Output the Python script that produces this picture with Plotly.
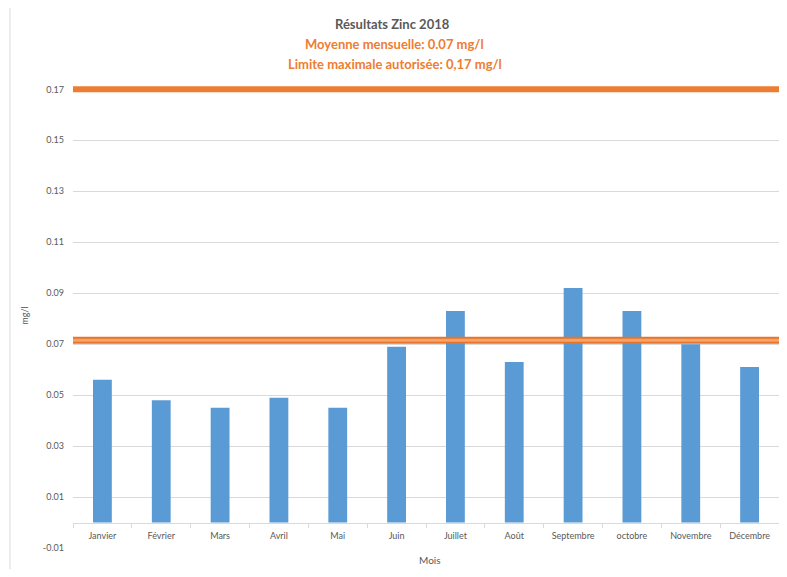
import plotly.graph_objects as go

months = ["Janvier", "Février", "Mars", "Avril", "Mai", "Juin", "Juillet",
          "Août", "Septembre", "octobre", "Novembre", "Décembre"]
zinc = [0.056, 0.048, 0.045, 0.049, 0.045, 0.069, 0.083, 0.063, 0.092, 0.083, 0.070, 0.061]
mean_line = 0.0715
limit_line = 0.17
y_ticks = [-0.01, 0.01, 0.03, 0.05, 0.07, 0.09, 0.11, 0.13, 0.15, 0.17]
y_tick_text = ["-0.01", "0.01", "0.03", "0.05", "0.07", "0.09", "0.11", "0.13", "0.15", "0.17"]

title = "Résultats Zinc 2018"
sub1 = "Moyenne mensuelle: 0.07 mg/l"
sub2 = "Limite maximale autorisée: 0,17 mg/l"

FONT = "Lato"
ORANGE = "#ED7D31"
BLUE = "#5B9BD5"
GRID = "#D9D9D9"
TXT = "#595959"

# page is offset by the 8px default body margin
OFF = 8
W, H = 787 - 2 * OFF, 577 - 2 * OFF
PL, PT, PB = 73 - OFF, 82.6 - OFF, 548 - OFF
PW, PH = W - PL, PB - PT

def px(x):
    return (x - 73) / PW

def py(y):
    return (548 - y) / PH

ymin, ymax = -0.01, 0.1725
fig = go.Figure()
fig.add_trace(go.Bar(x=months, y=zinc, marker_color=BLUE, marker_line_width=0,
                     showlegend=False, hoverinfo="x+y"))
fig.add_trace(go.Scatter(x=[0, 1], y=[limit_line, limit_line], xaxis="x2", mode="lines",
                         line=dict(color=ORANGE, width=6), showlegend=False))
fig.add_trace(go.Scatter(x=[0, 1], y=[mean_line, mean_line], xaxis="x2", mode="lines",
                         line=dict(color="#E8742A", width=7), showlegend=False))
fig.add_trace(go.Scatter(x=[0, 1], y=[mean_line, mean_line], xaxis="x2", mode="lines",
                         line=dict(color="#F4A36A", width=3), showlegend=False))

zero_frac = (0 - ymin) / (ymax - ymin)

fig.update_layout(
    width=W, height=H,
    margin=dict(l=PL, r=0, t=PT, b=H - PB, pad=0),
    paper_bgcolor="white", plot_bgcolor="white",
    font=dict(family=FONT, color=TXT, size=9),
    bargap=0.68,
    xaxis=dict(type="category", anchor="free", position=zero_frac,
               showline=True, linecolor=GRID, linewidth=1,
               ticks="outside", tickson="boundaries", ticklen=4, tickcolor=GRID,
               ticklabelstandoff=5,
               showgrid=False, tickfont=dict(size=9, color=TXT, family=FONT),
               fixedrange=True),
    xaxis2=dict(overlaying="x", range=[0, 1], visible=False, fixedrange=True),
    yaxis=dict(range=[ymin, ymax], tickvals=y_ticks, ticktext=y_tick_text,
               showgrid=True, gridcolor=GRID, gridwidth=1, zeroline=False,
               showline=False, ticks="", ticklabelstandoff=8,
               tickfont=dict(size=9, color=TXT, family=FONT),
               title=dict(text="mg/l", font=dict(size=9, color=TXT, family=FONT), standoff=12),
               fixedrange=True),
    annotations=[
        dict(text="Mois", xref="paper", yref="paper", x=px(430), y=py(560), showarrow=False,
             font=dict(size=10, color=TXT, family=FONT), yanchor="middle"),
        dict(text="<b>" + title + "</b>", xref="paper", yref="paper", x=px(392),
             y=py(24), showarrow=False, yanchor="middle",
             font=dict(size=13, color=TXT, family=FONT)),
        dict(text="<b>" + sub1 + "</b>", xref="paper", yref="paper", x=px(394),
             y=py(44), showarrow=False, yanchor="middle",
             font=dict(size=13, color=ORANGE, family=FONT)),
        dict(text="<b>" + sub2 + "</b>", xref="paper", yref="paper", x=px(395),
             y=py(64), showarrow=False, yanchor="middle",
             font=dict(size=13, color=ORANGE, family=FONT)),
    ],
    shapes=[
        dict(type="rect", xref="paper", yref="paper",
             x0=px(10), x1=px(800), y0=py(575), y1=py(5),
             line=dict(color=GRID, width=1), fillcolor="rgba(0,0,0,0)", layer="below"),
    ],
)

fig.write_html("out.html")
